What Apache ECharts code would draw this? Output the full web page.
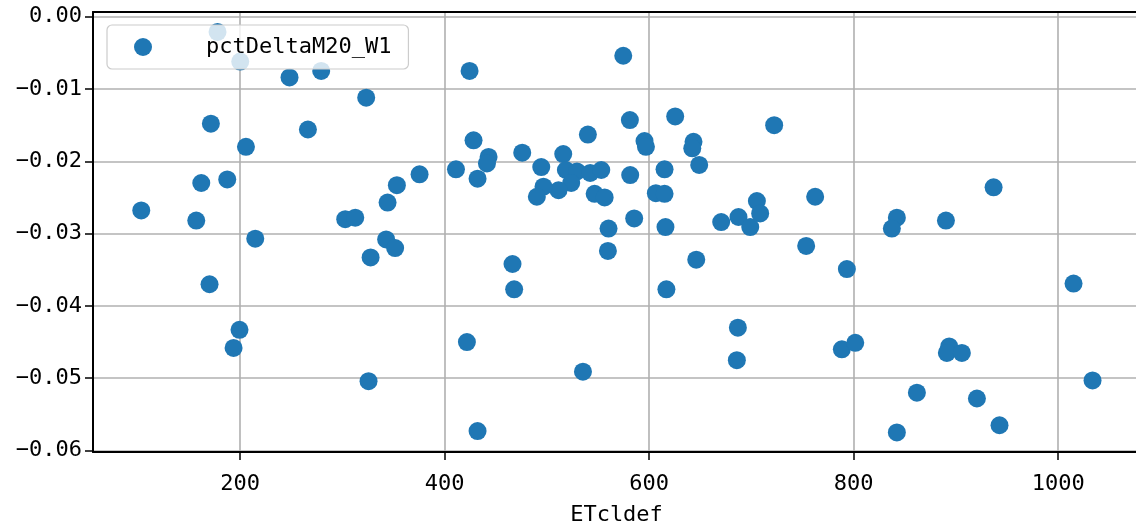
<!DOCTYPE html>
<html>
<head>
    <meta charset="utf-8">
    <title>pctDeltaM20_W1 vs ETcldef</title>
    <script src="https://cdn.jsdelivr.net/npm/echarts@6/dist/echarts.min.js"></script>
    <style>
        html, body {
            margin: 0;
            padding: 0;
            background: #ffffff;
        }

        #main {
            width: 1136px;
            height: 526px;
        }
    </style>
</head>
<body>
<div id="main"></div>
<script>
    // x: ETcldef
    var etcldef = [
        177.8, 200.0, 248.2, 279.2, 323.2, 171.3, 266.2, 205.6, 161.9, 187.3,
        375.4, 353.2, 103.2, 157.0, 302.7, 312.5, 344.1, 214.7, 342.7, 351.5,
        327.5, 170.0, 199.3, 193.5, 325.5, 424.3, 574.6, 581.1, 625.4, 722.2,
        540.0, 595.4, 596.8, 643.3, 642.1, 648.9, 428.2, 442.9, 441.3, 432.1,
        411.0, 475.8, 494.4, 515.9, 518.5, 529.3, 542.3, 553.1, 523.7, 511.3,
        496.6, 490.1, 546.6, 556.4, 581.4, 615.0, 606.5, 615.0, 560.2, 585.3,
        615.9, 670.4, 687.3, 705.3, 708.5, 698.8, 762.3, 559.6, 753.5, 646.0,
        466.3, 467.9, 616.8, 686.7, 685.7, 421.7, 535.2, 432.1, 842.2, 837.3,
        890.2, 936.8, 793.3, 1015.0, 788.4, 801.5, 893.4, 891.1, 905.8, 1033.6,
        861.8, 920.5, 942.6, 842.2
    ];
    // y: pctDeltaM20_W1
    var pctDelta = [
        -0.0021, -0.0062, -0.0084, -0.0075, -0.0112, -0.0148, -0.0156, -0.0180, -0.0230, -0.0225,
        -0.0218, -0.0233, -0.0268, -0.0282, -0.0280, -0.0278, -0.0257, -0.0307, -0.0308, -0.0320,
        -0.0333, -0.0370, -0.0433, -0.0458, -0.0504, -0.0075, -0.0054, -0.0143, -0.0138, -0.0150,
        -0.0163, -0.0172, -0.0180, -0.0173, -0.0182, -0.0205, -0.0171, -0.0194, -0.0203, -0.0224,
        -0.0211, -0.0188, -0.0208, -0.0190, -0.0212, -0.0214, -0.0216, -0.0212, -0.0230, -0.0240,
        -0.0235, -0.0249, -0.0245, -0.0250, -0.0219, -0.0211, -0.0244, -0.0245, -0.0293, -0.0279,
        -0.0291, -0.0284, -0.0277, -0.0255, -0.0272, -0.0291, -0.0249, -0.0324, -0.0317, -0.0336,
        -0.0342, -0.0377, -0.0377, -0.0430, -0.0475, -0.0450, -0.0491, -0.0573, -0.0278, -0.0293,
        -0.0282, -0.0236, -0.0349, -0.0369, -0.0460, -0.0451, -0.0456, -0.0465, -0.0465, -0.0503,
        -0.0520, -0.0528, -0.0565, -0.0575
    ];
    var xTicks = [200, 400, 600, 800, 1000];
    var yTicks = [-0.06, -0.05, -0.04, -0.03, -0.02, -0.01, 0.00];
    var seriesName = 'pctDeltaM20_W1';
    var xName = 'ETcldef';

    var points = [];
    for (var i = 0; i < etcldef.length; i++) {
        points.push([etcldef[i], pctDelta[i]]);
    }

    var font = 'DejaVu Sans Mono';
    var gridColor = '#b0b0b0';

    var myChart = echarts.init(document.getElementById('main'), null, {renderer: 'canvas'});
    var option = {
        animation: false,
        backgroundColor: '#ffffff',
        grid: {
            left: 93,
            top: 12,
            width: 1047,
            bottom: 74,
            outerBoundsMode: 'none',
            containLabel: false
        },
        legend: {
            left: 107,
            top: 25,
            orient: 'vertical',
            icon: 'circle',
            itemWidth: 18,
            itemHeight: 18,
            itemGap: 0,
            padding: [11, 17, 11, 27],
            backgroundColor: 'rgba(255,255,255,0.8)',
            borderColor: '#cccccc',
            borderWidth: 1.2,
            borderRadius: 5,
            textStyle: {
                fontFamily: font,
                fontSize: 22,
                color: '#000000',
                padding: [0, 0, 0, 49]
            },
            data: [seriesName]
        },
        xAxis: [{
            type: 'value',
            min: 56,
            max: 1080,
            name: xName,
            nameLocation: 'middle',
            nameGap: 52,
            nameTextStyle: {fontFamily: font, fontSize: 22, color: '#000000'},
            axisLine: {show: true, onZero: false, lineStyle: {color: '#000000', width: 2}},
            axisTick: {show: true, length: 8, customValues: xTicks, lineStyle: {color: '#000000', width: 1.5}},
            axisLabel: {
                customValues: xTicks,
                margin: 21,
                fontFamily: font,
                fontSize: 22,
                color: '#000000',
                formatter: function (v) {
                    return String(v);
                }
            },
            splitLine: {show: true, lineStyle: {color: gridColor, width: 1.6}}
        }, {
            type: 'value',
            position: 'top',
            min: 56,
            max: 1080,
            axisLine: {show: true, onZero: false, lineStyle: {color: '#000000', width: 2}},
            axisTick: {show: false},
            axisLabel: {show: false},
            splitLine: {show: false}
        }],
        yAxis: {
            type: 'value',
            min: -0.0602,
            max: 0.00065,
            axisLine: {show: true, onZero: false, lineStyle: {color: '#000000', width: 2}},
            axisTick: {show: true, length: 8, customValues: yTicks, lineStyle: {color: '#000000', width: 1.5}},
            axisLabel: {
                customValues: yTicks,
                margin: 11,
                padding: [5, 0, 0, 0],
                fontFamily: font,
                fontSize: 22,
                color: '#000000',
                formatter: function (v) {
                    var s = Math.abs(v).toFixed(2);
                    return (v < -1e-9 ? '\u2212' : '') + s;
                }
            },
            splitLine: {show: true, lineStyle: {color: gridColor, width: 1.6}}
        },
        series: [{
            name: seriesName,
            type: 'scatter',
            xAxisIndex: 0,
            symbolSize: 18,
            itemStyle: {color: '#1f77b4', opacity: 1},
            data: points
        }]
    };
    myChart.setOption(option);
</script>
</body>
</html>
